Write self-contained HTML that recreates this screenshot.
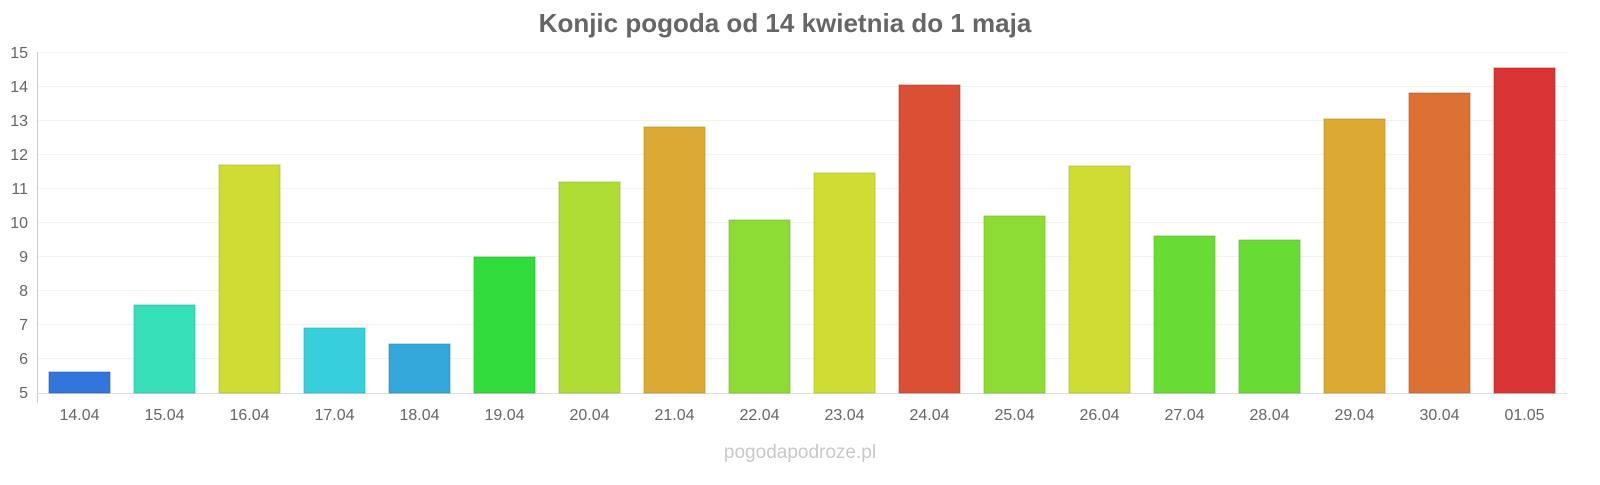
<!DOCTYPE html>
<html><head><meta charset="utf-8"><style>
body{margin:0;background:#fff;}
svg text{font-family:"Liberation Sans",sans-serif;}
</style></head><body>
<svg width="1600" height="480" xmlns="http://www.w3.org/2000/svg">
<rect width="1600" height="480" fill="#fff"/>
<text x="785" y="32" text-anchor="middle" font-size="26" font-weight="bold" fill="#666">Konjic pogoda od 14 kwietnia do 1 maja</text>
<g stroke="#f2f2f2" stroke-width="1">
<line x1="37" x2="1567" y1="52.5" y2="52.5"/><line x1="37" x2="1567" y1="86.5" y2="86.5"/>
<line x1="37" x2="1567" y1="120.5" y2="120.5"/><line x1="37" x2="1567" y1="154.5" y2="154.5"/>
<line x1="37" x2="1567" y1="188.5" y2="188.5"/><line x1="37" x2="1567" y1="222.5" y2="222.5"/>
<line x1="37" x2="1567" y1="256.5" y2="256.5"/><line x1="37" x2="1567" y1="290.5" y2="290.5"/>
<line x1="37" x2="1567" y1="324.5" y2="324.5"/><line x1="37" x2="1567" y1="358.5" y2="358.5"/>
</g>
<line x1="37.5" x2="37.5" y1="52" y2="403" stroke="#ccc"/>
<line x1="37" x2="1567" y1="393.5" y2="393.5" stroke="#ddd"/>
<g font-size="16" fill="#666" text-anchor="end">
<text x="28" y="58">15</text><text x="28" y="92">14</text><text x="28" y="126">13</text><text x="28" y="160">12</text><text x="28" y="194">11</text><text x="28" y="228">10</text><text x="28" y="262">9</text><text x="28" y="296">8</text><text x="28" y="330">7</text><text x="28" y="364">6</text><text x="28" y="398">5</text>
</g>
<g stroke-width="1" stroke-opacity="0.6">
<rect x="49" y="372" width="61" height="21" fill="#3275db" stroke="#2a5fb0"/>
<rect x="134" y="305" width="61" height="88" fill="#36dfb8" stroke="#2bb394"/>
<rect x="219" y="165" width="61" height="228" fill="#cfdd33" stroke="#a6b128"/>
<rect x="304" y="328" width="61" height="65" fill="#37cfdb" stroke="#2ca6b0"/>
<rect x="389" y="344" width="61" height="49" fill="#34a8da" stroke="#2a87af"/>
<rect x="474" y="257" width="61" height="136" fill="#32db3c" stroke="#28af30"/>
<rect x="559" y="182" width="61" height="211" fill="#afdd33" stroke="#8cb128"/>
<rect x="644" y="127" width="61" height="266" fill="#dcaa33" stroke="#b08828"/>
<rect x="729" y="220" width="61" height="173" fill="#8cdc35" stroke="#70b02a"/>
<rect x="814" y="173" width="61" height="220" fill="#cfdd33" stroke="#a6b128"/>
<rect x="899" y="85" width="61" height="308" fill="#db5035" stroke="#af402a"/>
<rect x="984" y="216" width="61" height="177" fill="#8cdc35" stroke="#70b02a"/>
<rect x="1069" y="166" width="61" height="227" fill="#cfdd33" stroke="#a6b128"/>
<rect x="1154" y="236" width="61" height="157" fill="#68dc35" stroke="#53b02a"/>
<rect x="1239" y="240" width="61" height="153" fill="#68dc35" stroke="#53b02a"/>
<rect x="1324" y="119" width="61" height="274" fill="#dcaa33" stroke="#b08828"/>
<rect x="1409" y="93" width="61" height="300" fill="#dd7033" stroke="#b15a28"/>
<rect x="1494" y="68" width="61" height="325" fill="#db3434" stroke="#af2a2a"/>
</g>
<g font-size="16" fill="#666" text-anchor="middle">
<text x="79.5" y="420">14.04</text><text x="164.5" y="420">15.04</text><text x="249.5" y="420">16.04</text><text x="334.5" y="420">17.04</text><text x="419.5" y="420">18.04</text><text x="504.5" y="420">19.04</text><text x="589.5" y="420">20.04</text><text x="674.5" y="420">21.04</text><text x="759.5" y="420">22.04</text><text x="844.5" y="420">23.04</text><text x="929.5" y="420">24.04</text><text x="1014.5" y="420">25.04</text><text x="1099.5" y="420">26.04</text><text x="1184.5" y="420">27.04</text><text x="1269.5" y="420">28.04</text><text x="1354.5" y="420">29.04</text><text x="1439.5" y="420">30.04</text><text x="1524.5" y="420">01.05</text>
</g>
<text x="800" y="458" text-anchor="middle" font-size="19" fill="#c8c8c8">pogodapodroze.pl</text>
</svg>
</body></html>
